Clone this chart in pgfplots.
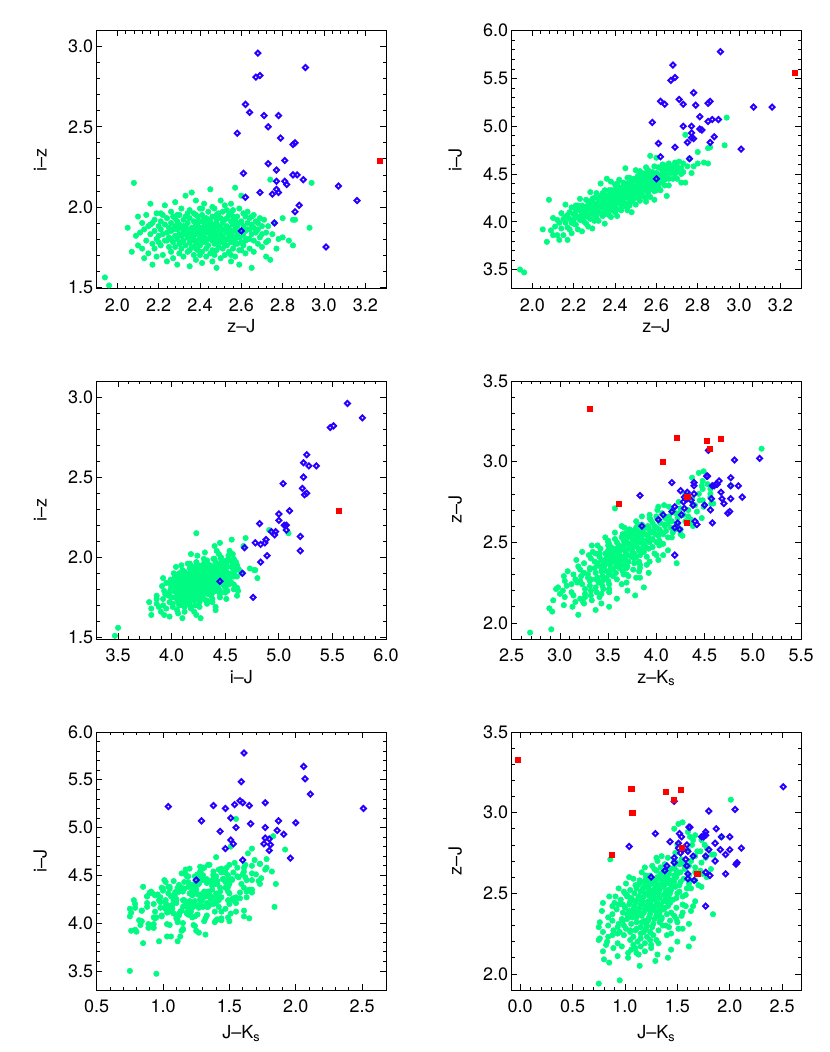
\documentclass[border=0pt]{standalone}
\usepackage{fontspec}
\setmainfont{TeX Gyre Heros}
\usepackage{pgfplots}
\usepackage{pgfplotstable}
\pgfplotsset{compat=1.18}
\definecolor{cgreen}{RGB}{0,250,130}
\definecolor{cblue}{RGB}{40,0,255}
\definecolor{cred}{RGB}{255,0,0}

% green objects with i, z, J, Ks photometry: z-J, i-z, J-Ks
\pgfplotstableread{
zJ iz JK
1.94 1.56 0.75
1.96 1.51 0.95
2.05 1.87 1.14
2.07 1.72 0.85
2.08 2.15 1.29
2.09 1.82 0.80
2.10 1.76 1.03
2.10 1.94 1.41
2.11 1.84 0.93
2.12 1.74 1.13
2.12 1.90 1.31
2.13 1.68 1.11
2.13 1.86 1.03
2.14 1.95 1.19
2.14 1.79 0.79
2.15 1.88 1.44
2.15 1.71 1.06
2.16 2.02 1.25
2.16 1.83 0.89
2.17 1.77 1.15
2.17 1.90 1.61
2.17 1.64 0.97
2.18 1.85 0.82
2.18 1.92 1.08
2.19 1.69 1.32
2.19 1.80 0.93
2.19 1.96 1.19
2.20 1.78 0.83
2.20 1.88 1.12
2.20 1.82 1.50
2.21 1.91 1.05
2.21 1.76 1.24
2.21 1.86 0.75
2.22 1.70 0.76
2.22 1.95 1.15
2.22 1.83 1.65
2.23 1.79 0.84
2.23 1.89 1.21
2.23 2.01 1.08
2.24 1.66 1.27
2.24 1.84 0.99
2.24 1.93 0.88
2.25 1.75 1.15
2.25 1.87 1.44
2.25 1.81 0.93
2.26 1.97 1.24
2.26 1.72 1.05
2.26 1.90 0.79
2.26 1.85 1.18
2.27 1.78 1.32
2.27 1.94 1.10
2.27 1.68 0.89
2.28 1.88 1.01
2.28 1.82 1.51
2.28 2.03 1.20
2.28 1.75 1.11
2.29 1.91 0.93
2.29 1.80 1.26
2.29 1.86 0.75
2.29 1.64 1.15
2.30 1.95 1.36
2.30 1.77 0.99
2.30 1.89 1.21
2.30 1.83 0.84
2.30 1.71 1.39
2.31 1.87 1.06
2.31 1.99 1.27
2.31 1.74 0.94
2.31 1.82 1.61
2.32 1.92 1.16
2.32 1.79 0.76
2.32 1.85 1.33
2.32 1.69 1.11
2.33 2.07 1.22
2.33 1.88 0.88
2.33 1.76 1.19
2.33 1.94 1.43
2.34 1.81 1.02
2.34 1.86 1.28
2.34 1.72 1.49
2.34 1.90 0.97
2.35 1.98 1.11
2.35 1.84 1.35
2.35 1.78 0.84
2.35 1.63 1.23
2.35 1.93 1.07
2.36 1.87 1.54
2.36 1.75 1.03
2.36 2.09 1.30
2.36 1.82 1.16
2.37 1.91 0.88
2.37 1.80 1.84
2.37 1.70 1.24
2.37 1.96 1.12
2.37 1.86 1.40
2.38 1.77 1.07
2.38 1.89 0.98
2.38 2.04 1.33
2.38 1.83 1.18
2.38 1.67 1.44
2.39 1.94 1.24
2.39 1.85 0.78
2.39 1.73 1.13
2.39 1.88 1.63
2.39 1.79 1.04
2.40 1.99 1.37
2.40 1.84 1.08
2.40 1.76 1.27
2.40 1.91 0.92
2.40 1.81 1.19
2.41 1.87 1.33
2.41 1.72 1.14
2.41 1.95 1.00
2.41 1.83 1.49
2.41 1.65 1.22
2.42 1.90 1.09
2.42 1.78 1.28
2.42 2.02 1.41
2.42 1.86 0.88
2.42 1.81 1.20
2.43 1.93 1.15
2.43 1.74 1.34
2.43 1.88 1.04
2.43 1.84 1.55
2.43 1.69 0.94
2.44 1.97 1.24
2.44 1.80 1.10
2.44 1.89 1.43
2.44 1.76 0.79
2.44 1.85 1.31
2.45 2.11 1.17
2.45 1.82 1.37
2.45 1.91 1.05
2.45 1.71 1.22
2.45 1.87 1.67
2.46 1.79 1.28
2.46 1.94 1.12
2.46 1.84 0.96
2.46 1.66 1.39
2.46 1.89 1.25
2.47 1.77 1.15
2.47 1.99 1.33
2.47 1.86 1.49
2.47 1.81 1.06
2.48 1.92 1.26
2.48 1.73 1.40
2.48 1.85 0.91
2.48 1.62 1.18
2.48 1.88 1.13
2.49 1.96 1.37
2.49 1.80 1.22
2.49 1.83 1.58
2.49 1.75 1.02
2.50 2.04 1.28
2.50 1.87 1.43
2.50 1.78 1.09
2.50 1.93 1.19
2.50 1.68 1.32
2.51 1.90 1.39
2.51 1.82 1.15
2.51 1.97 1.26
2.51 1.74 1.52
2.52 1.86 1.05
2.52 1.79 1.33
2.52 2.01 1.44
2.52 1.70 1.23
2.53 1.88 1.59
2.53 1.84 1.11
2.53 1.93 1.29
2.53 1.76 0.94
2.54 1.81 1.37
2.54 1.95 1.19
2.54 1.87 1.73
2.54 1.72 1.30
2.55 2.02 1.44
2.55 1.83 1.23
2.55 1.78 1.12
2.55 1.91 1.52
2.55 1.66 1.33
2.56 1.89 1.01
2.56 1.85 1.39
2.56 1.74 1.26
2.56 1.98 1.61
2.57 1.80 1.47
2.57 1.92 1.18
2.57 1.86 1.36
2.57 1.69 1.53
2.57 2.12 1.40
2.58 1.83 1.27
2.58 1.77 1.67
2.58 1.94 1.14
2.58 1.88 1.45
2.59 1.73 1.33
2.59 1.90 1.56
2.59 1.81 1.20
2.59 1.64 1.41
2.59 1.99 1.30
2.60 1.85 1.49
2.60 1.78 1.04
2.60 1.91 1.38
2.60 2.07 1.78
2.61 1.82 1.47
2.61 1.88 1.24
2.61 1.76 1.61
2.62 1.94 1.42
2.62 1.85 1.74
2.62 1.71 1.34
2.63 1.90 1.53
2.63 1.80 1.16
2.63 1.97 1.67
2.64 1.86 1.38
2.64 1.74 1.49
2.64 1.93 1.30
2.65 1.83 1.57
2.65 1.89 1.82
2.65 1.62 1.44
2.66 1.95 1.34
2.66 1.79 1.67
2.66 1.87 1.47
2.67 1.84 1.26
2.67 1.91 1.61
2.68 1.77 1.52
2.68 1.86 1.38
2.69 1.93 1.73
2.69 1.81 1.49
2.70 1.88 1.31
2.70 1.75 1.63
2.71 1.92 1.54
2.72 1.69 1.41
2.72 1.84 1.77
2.73 1.79 1.67
2.73 1.88 1.35
2.74 2.17 1.83
2.74 1.67 1.85
2.75 1.83 1.48
2.76 1.90 1.69
2.77 1.74 1.60
2.78 1.80 1.78
2.80 1.81 1.50
2.80 1.93 1.64
2.83 1.79 1.73
2.85 1.76 1.62
2.85 1.92 1.92
2.86 1.92 1.67
2.93 1.87 1.51
2.94 2.15 1.55
2.27 1.86 1.05
2.29 1.95 1.42
2.31 1.78 1.20
2.33 1.83 0.98
2.34 1.96 1.35
2.36 1.79 1.47
2.37 1.84 1.02
2.39 1.91 1.29
2.40 1.70 1.12
2.41 1.99 1.25
2.42 1.84 1.58
2.43 1.79 0.98
2.44 1.92 1.16
2.45 1.86 1.40
2.46 1.73 1.07
2.46 2.00 1.46
2.47 1.83 1.29
2.48 1.78 1.55
2.48 1.95 1.02
2.49 1.88 1.23
2.50 1.81 1.50
2.51 1.86 0.99
2.52 1.92 1.27
2.52 1.76 1.41
2.53 1.98 1.17
2.54 1.84 1.48
2.55 1.70 1.10
2.56 1.94 1.30
2.57 1.77 1.22
2.58 1.90 1.62
2.59 1.85 1.08
2.60 1.73 1.31
2.61 1.96 1.20
2.62 1.79 1.50
2.63 1.86 1.40
2.64 1.80 1.72
2.65 1.94 1.28
2.66 1.72 1.19
2.68 1.90 1.56
2.70 1.83 1.47
2.72 1.78 1.30
2.32 1.88 1.50
2.35 1.73 1.33
2.38 1.95 1.10
2.41 1.79 1.38
2.44 1.88 0.90
2.47 1.70 1.42
2.50 1.84 1.00
2.53 1.80 1.63
2.56 1.81 1.14
2.24 1.79 1.40
2.26 1.80 0.95
2.21 1.96 1.30
2.18 1.74 1.25
2.16 1.89 1.10
2.28 1.93 1.55
2.42 1.93 1.65
2.38 1.74 1.55
2.48 1.90 0.85
2.55 1.96 1.70
}\greenI

% green objects without i photometry: z-J, J-Ks
\pgfplotstableread{
zJ JK
3.08 2.01
2.71 0.86
2.80 1.76
2.83 1.65
2.76 1.72
2.88 1.60
2.90 1.47
}\greenN

% blue objects with i: z-J, i-z, J-Ks
\pgfplotstableread{
zJ iz JK
2.68 2.96 2.06
2.67 2.81 1.59
2.69 2.82 2.07
2.91 2.87 1.61
2.62 2.64 1.60
2.64 2.59 1.38
2.71 2.57 1.58
2.78 2.57 2.11
2.73 2.50 1.65
2.58 2.46 1.66
2.79 2.43 1.04
2.85 2.39 1.54
2.86 2.40 1.77
2.73 2.27 1.77
2.81 2.29 1.51
2.61 2.21 1.81
2.77 2.23 1.55
2.85 2.20 2.00
2.87 2.20 1.29
2.77 2.16 1.91
2.81 2.16 1.86
2.82 2.14 1.43
2.90 2.17 1.87
3.07 2.13 1.47
3.16 2.04 2.51
2.62 2.06 1.96
2.69 2.09 1.47
2.75 2.08 1.53
2.77 2.11 1.80
2.78 2.09 1.51
2.88 2.01 1.77
2.86 1.97 1.76
2.76 1.90 1.60
2.60 1.85 1.25
3.01 1.75 1.80
}\blueI

% blue objects without i: z-J, J-Ks
\pgfplotstableread{
zJ JK
3.02 2.05
2.91 1.62
2.87 1.52
2.85 1.73
2.85 1.75
2.85 1.92
2.80 1.59
2.77 2.00
2.74 1.96
2.72 1.47
2.70 1.86
2.67 1.40
2.63 1.77
2.42 1.77
2.59 1.60
}\blueN

% red object with i (no Ks)
\pgfplotstableread{
zJ iz
3.27 2.29
}\redI

% red objects without i: z-J, J-Ks
\pgfplotstableread{
zJ JK
3.33 -0.02
3.15 1.06
3.00 1.07
3.13 1.39
3.14 1.53
3.08 1.47
2.74 0.87
2.78 1.54
2.62 1.69
}\redN

\pgfplotsset{
  panel/.style={
    scale only axis, width=217pt, height=193.5pt,
    anchor=south west,
    axis line style={line width=0.6pt},
    tick style={black, line width=0.55pt},
    major tick length=4.3pt, minor tick length=2.2pt,
    minor x tick num=4, minor y tick num=4,
    tick label style={font=\fontsize{13.5}{15}\selectfont},
    /pgf/number format/assume math mode=true,
    /pgf/number format/fixed,
    /pgf/number format/fixed zerofill,
    /pgf/number format/precision=1,
    scaled ticks=false,
    xticklabel style={yshift=-3.8pt},
    yticklabel style={xshift=0.8pt},
    label style={font=\fontsize{13.5}{15}\selectfont},
    xlabel style={at={(axis description cs:0.5,-0.171)}, anchor=base},
    ylabel style={at={(axis description cs:-0.173,0.5)}, anchor=base},
  },
  bottomrow/.style={xlabel style={at={(axis description cs:0.5,-0.187)}, anchor=base}},
  gpt/.style={only marks, mark=*, mark size=2.05pt, color=cgreen,
    mark options={draw=none, fill=cgreen}},
  bpt/.style={only marks, mark=square, mark size=1.35pt, color=cblue,
    mark options={rotate=45, line width=1.45pt, draw=cblue, fill=none}},
  rpt/.style={only marks, mark=square*, mark size=1.9pt, color=cred,
    mark options={draw=none, fill=cred}},
}

\begin{document}
\begin{tikzpicture}
\path[use as bounding box] (0pt,0pt) rectangle (622.5pt,789pt);

% Panel 1: z-J vs i-z
\begin{axis}[panel, at={(72.5pt,572.5pt)},
  xmin=1.9, xmax=3.3, ymin=1.49, ymax=3.1,
  xtick={2.0,2.2,2.4,2.6,2.8,3.0,3.2}, ytick={1.5,2.0,2.5,3.0},
  xlabel={z\textendash J}, ylabel={i\textendash z}]
\addplot[gpt] table[x=zJ, y=iz]{\greenI};
\addplot[bpt] table[x=zJ, y=iz]{\blueI};
\addplot[rpt] table[x=zJ, y=iz]{\redI};
\end{axis}

% Panel 2: z-J vs i-J
\begin{axis}[panel, at={(383.8pt,572.5pt)},
  xmin=1.9, xmax=3.3, ymin=3.3, ymax=6.0,
  xtick={2.0,2.2,2.4,2.6,2.8,3.0,3.2}, ytick={3.5,4.0,4.5,5.0,5.5,6.0},
  xlabel={z\textendash J}, ylabel={i\textendash J}]
\addplot[gpt] table[x=zJ, y expr=\thisrow{zJ}+\thisrow{iz}]{\greenI};
\addplot[bpt] table[x=zJ, y expr=\thisrow{zJ}+\thisrow{iz}]{\blueI};
\addplot[rpt] table[x=zJ, y expr=\thisrow{zJ}+\thisrow{iz}]{\redI};
\end{axis}

% Panel 3: i-J vs i-z
\begin{axis}[panel, at={(72.5pt,309.75pt)},
  xmin=3.3, xmax=6.0, ymin=1.49, ymax=3.1,
  xtick={3.5,4.0,4.5,5.0,5.5,6.0}, ytick={1.5,2.0,2.5,3.0},
  xlabel={i\textendash J}, ylabel={i\textendash z}]
\addplot[gpt] table[x expr=\thisrow{zJ}+\thisrow{iz}, y=iz]{\greenI};
\addplot[bpt] table[x expr=\thisrow{zJ}+\thisrow{iz}, y=iz]{\blueI};
\addplot[rpt] table[x expr=\thisrow{zJ}+\thisrow{iz}, y=iz]{\redI};
\end{axis}

% Panel 4: z-Ks vs z-J
\begin{axis}[panel, at={(383.8pt,309.75pt)},
  xmin=2.5, xmax=5.5, ymin=1.9, ymax=3.5,
  xtick={2.5,3.0,3.5,4.0,4.5,5.0,5.5}, ytick={2.0,2.5,3.0,3.5},
  xlabel={z\textendash K\textsubscript{s}}, ylabel={z\textendash J}]
\addplot[gpt] table[x expr=\thisrow{zJ}+\thisrow{JK}, y=zJ]{\greenI};
\addplot[gpt] table[x expr=\thisrow{zJ}+\thisrow{JK}, y=zJ]{\greenN};
\addplot[bpt] table[x expr=\thisrow{zJ}+\thisrow{JK}, y=zJ]{\blueI};
\addplot[bpt] table[x expr=\thisrow{zJ}+\thisrow{JK}, y=zJ]{\blueN};
\addplot[rpt] table[x expr=\thisrow{zJ}+\thisrow{JK}, y=zJ]{\redN};
\end{axis}

% Panel 5: J-Ks vs i-J
\begin{axis}[panel, bottomrow, at={(72.5pt,46.5pt)},
  xmin=0.5, xmax=2.68, ymin=3.3, ymax=6.0,
  xtick={0.5,1.0,1.5,2.0,2.5}, ytick={3.5,4.0,4.5,5.0,5.5,6.0},
  xlabel={J\textendash K\textsubscript{s}}, ylabel={i\textendash J}]
\addplot[gpt] table[x=JK, y expr=\thisrow{zJ}+\thisrow{iz}]{\greenI};
\addplot[bpt] table[x=JK, y expr=\thisrow{zJ}+\thisrow{iz}]{\blueI};
\end{axis}

% Panel 6: J-Ks vs z-J
\begin{axis}[panel, bottomrow, at={(383.8pt,46.5pt)},
  xmin=-0.08, xmax=2.68, ymin=1.9, ymax=3.5,
  xtick={0.0,0.5,1.0,1.5,2.0,2.5}, ytick={2.0,2.5,3.0,3.5},
  xlabel={J\textendash K\textsubscript{s}}, ylabel={z\textendash J}]
\addplot[gpt] table[x=JK, y=zJ]{\greenI};
\addplot[gpt] table[x=JK, y=zJ]{\greenN};
\addplot[bpt] table[x=JK, y=zJ]{\blueI};
\addplot[bpt] table[x=JK, y=zJ]{\blueN};
\addplot[rpt] table[x=JK, y=zJ]{\redN};
\end{axis}
\end{tikzpicture}
\end{document}
